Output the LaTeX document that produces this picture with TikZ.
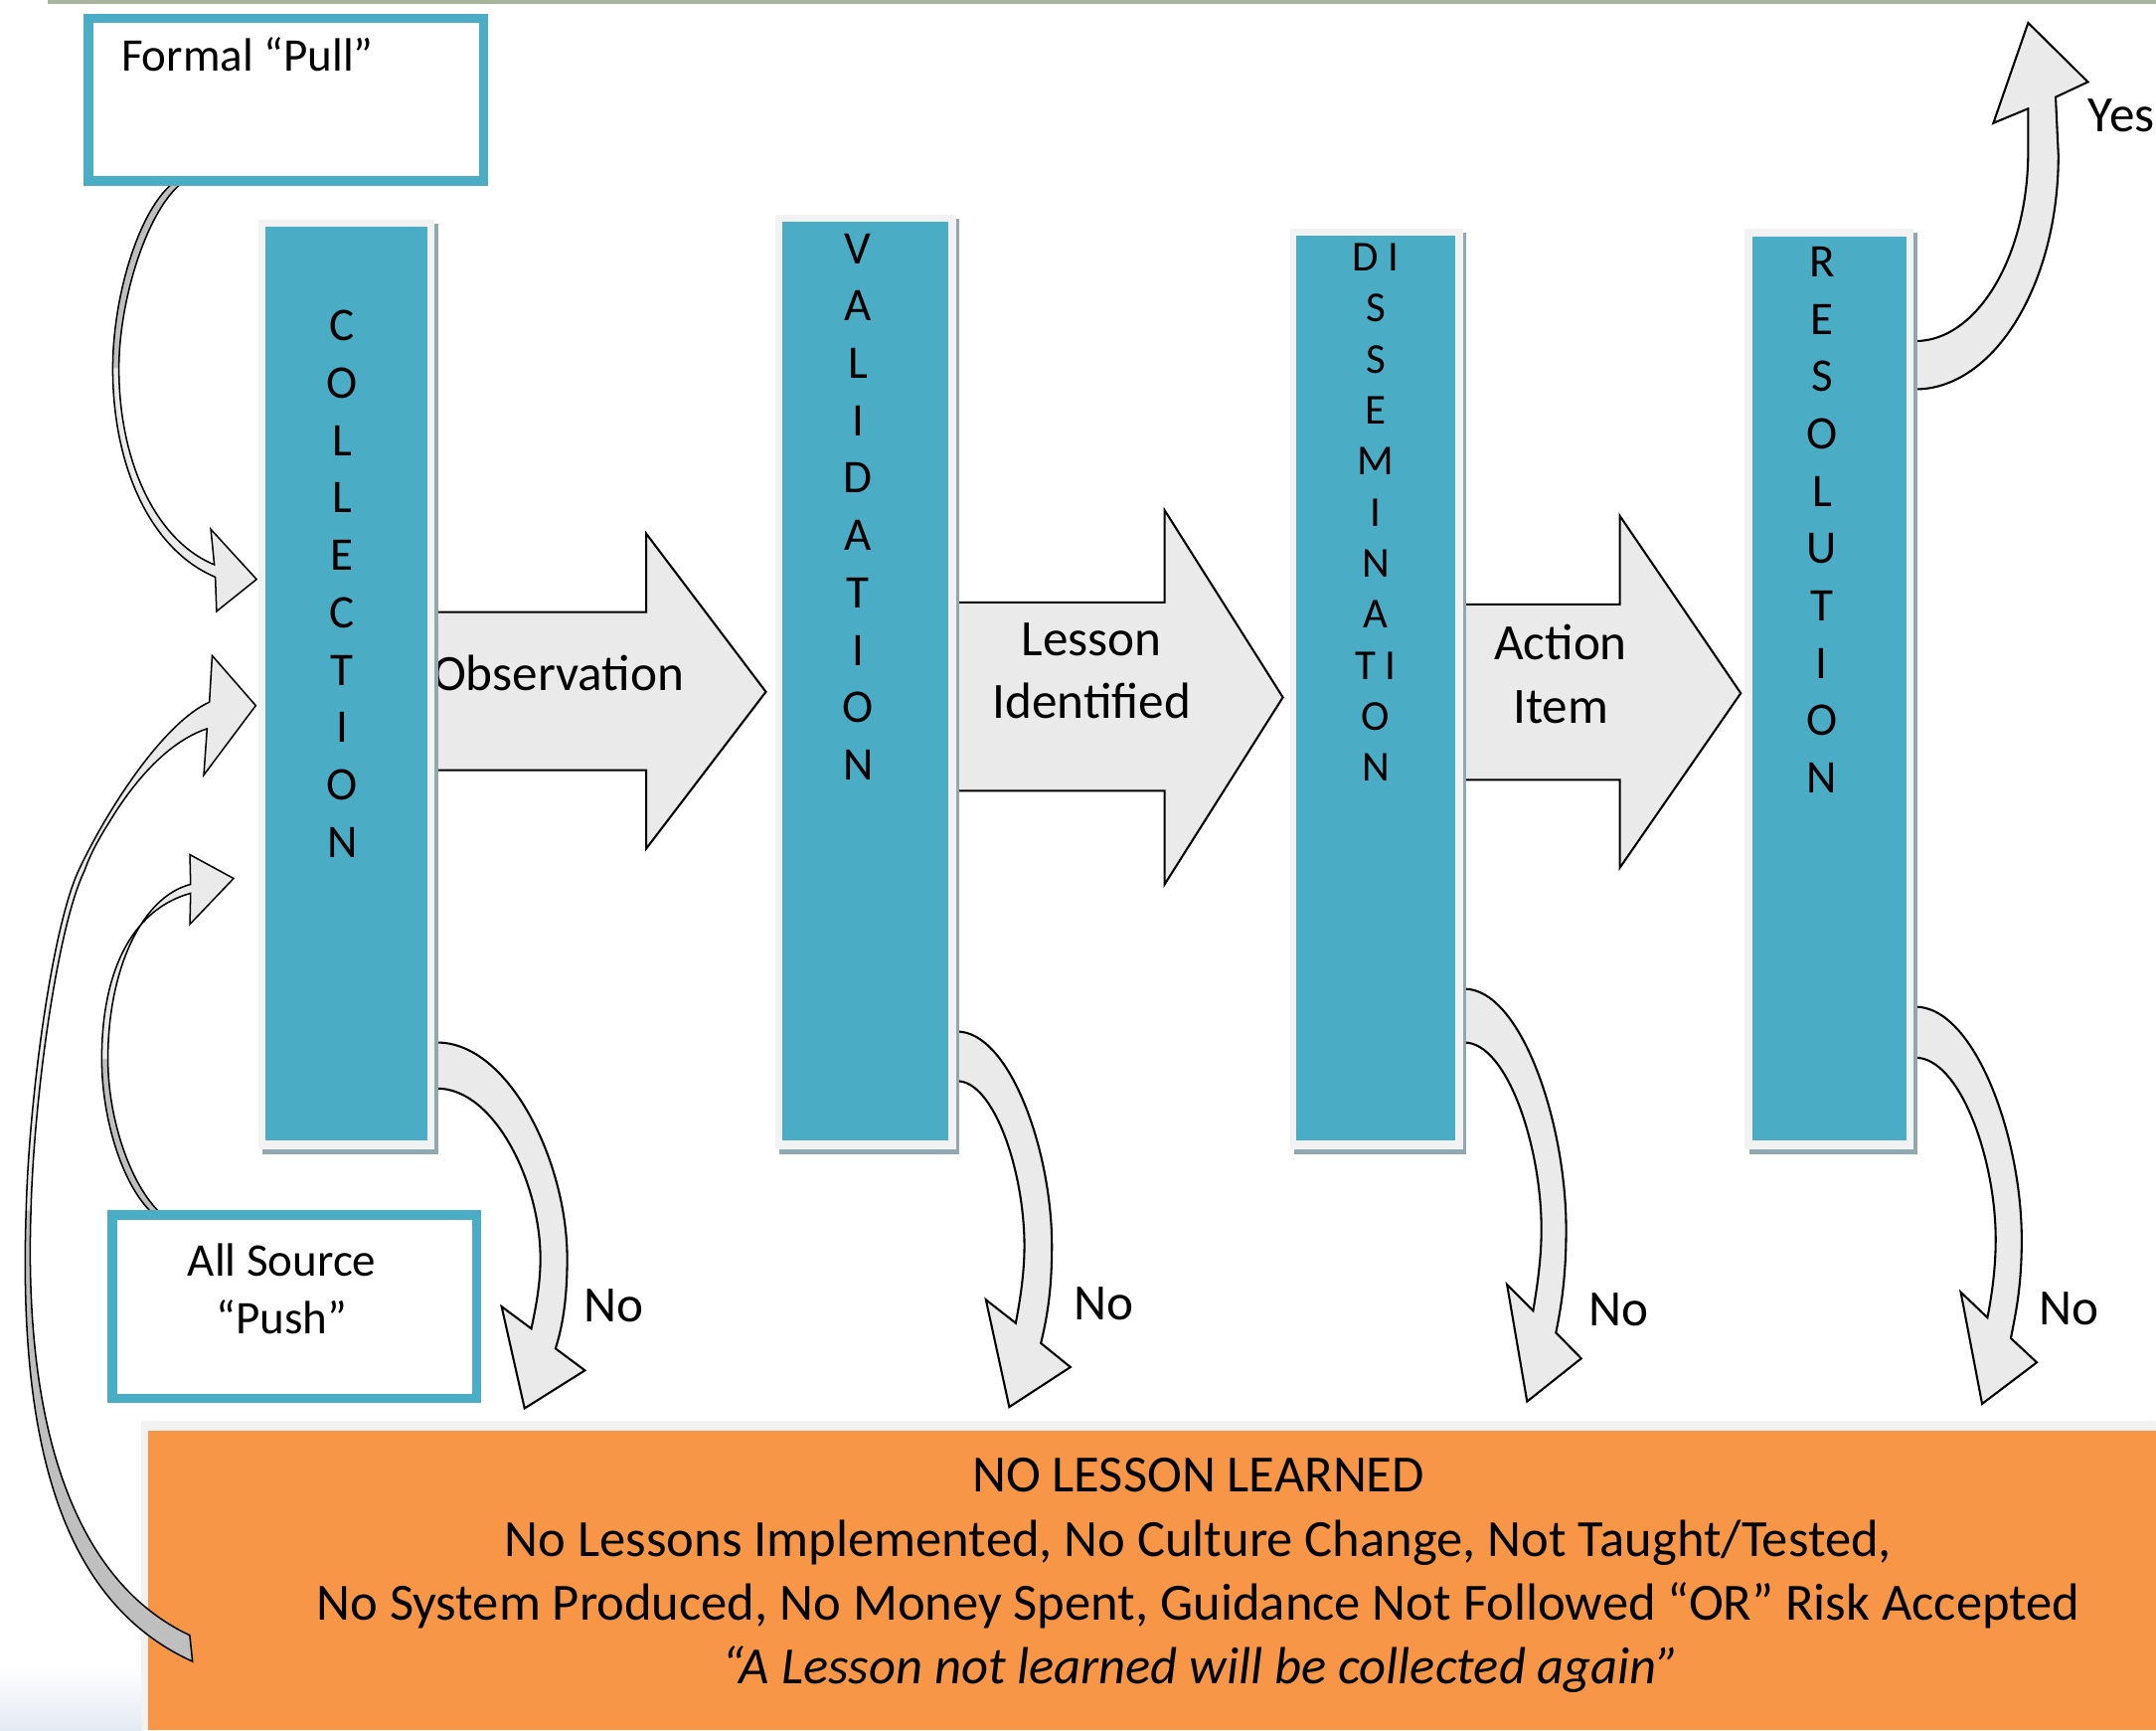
\documentclass[tikz,border=0pt]{standalone}
\usepackage{fontspec}
\setmainfont{Carlito}
\definecolor{stageblue}{HTML}{4BACC6}
\definecolor{framegrey}{HTML}{F2F2F2}
\definecolor{shadowc}{HTML}{8FA8B2}
\definecolor{arrowgrey}{HTML}{EAEAEA}
\definecolor{backgrey}{HTML}{BFBFBF}
\definecolor{orangec}{HTML}{F79646}
\definecolor{olivec}{HTML}{A9B39A}
\definecolor{fadeblue}{HTML}{E4EAF3}
\tikzset{
  outl/.style={draw=black, line width=1.5pt, line join=miter, miter limit=10},
  blockarrow/.style={fill=arrowgrey, outl},
  thinoutl/.style={draw=black, line width=1.1pt, line join=miter, miter limit=10},
  lbl/.style={font=\fontsize{37}{45}\selectfont, inner sep=0pt, anchor=base},
  boxtext/.style={font=\fontsize{34}{41.5}\selectfont, inner sep=0pt},
  bigtext/.style={font=\fontsize{38}{46.7}\selectfont, inner sep=0pt, anchor=base},
  letters/.style={align=center, inner sep=0pt, font=\fontsize{34}{41.7}\selectfont},
  stagebox/.style={fill=stageblue, draw=none, inner sep=0pt, outer sep=0pt},
  srcbox/.style={draw=stageblue, line width=5.6pt, fill=white, inner sep=0pt},
  thinblue/.style={draw=stageblue, line width=1.7pt}
}
\begin{document}
\begin{tikzpicture}[x=1pt,y=-1pt]
\useasboundingbox (0,0) rectangle (1568,1258);
\fill[white] (0,0) rectangle (1568,1258);
% top rule
\fill[olivec] (35,0) rectangle (1568,2.6);
% bottom-left fade
\shade[bottom color=fadeblue, top color=white] (0,1210) rectangle (103,1258);

% orange result box
\fill[framegrey] (103,1033) rectangle (1568,1258);
\node[fill=orangec, draw=none, inner sep=0pt, minimum width=1460pt, minimum height=218pt] (nolesson) at (838,1149) {};
\node[bigtext] (nl1) at (871.5,1085) {NO LESSON LEARNED};
\node[bigtext] (nl2) at (871.5,1131.5) {No Lessons Implemented, No Culture Change, Not Taught/Tested,};
\node[bigtext] (nl3) at (871.5,1178) {No System Produced, No Money Spent, Guidance Not Followed “OR” Risk Accepted};
\node[bigtext] (nl4) at (873,1224.5) {\itshape “A Lesson not learned will be collected again”};

% big block arrows
\draw[blockarrow] (305,445) -- (470,445) -- (470,388) -- (557,503) -- (470,617) -- (470,560) -- (305,560) -- cycle;
\draw[blockarrow] (682,438) -- (847,438) -- (847,371) -- (933,507) -- (847,643) -- (847,575) -- (682,575) -- cycle;
\draw[blockarrow] (1052,439.4) -- (1178,439.4) -- (1178,375) -- (1266,504) -- (1178,631) -- (1178,567) -- (1052,567) -- cycle;
\node[lbl] (obsT) at (406,502) {Observation};
\node[lbl] (lesT1) at (794,477) {Lesson};
\node[lbl] (lesT2) at (794,522) {Identified};
\node[lbl] (actT1) at (1135,480) {Action};
\node[lbl] (actT2) at (1135,526) {Item};

% "No" curved arrows
\draw[blockarrow] (310,758) -- (318,758) .. controls (370.2,758) and (412.5,844.7) .. (412.5,915) .. controls (412.5,945) and (409,965) .. (404,980.5) -- (425.4,996.4) -- (381.5,1024) -- (364.8,950) -- (386.4,966) .. controls (391,945) and (393,930) .. (393,915) .. controls (393,859.6) and (359.4,791.4) .. (318,791.4) -- (310,791.4) -- cycle;
\draw[blockarrow] (688,750) -- (696,750) .. controls (734,750) and (765,836) .. (765,906) .. controls (765,940) and (761,960) .. (757,976.6) -- (778.5,994) -- (734,1023) -- (717,945) -- (738.7,962) .. controls (742,945) and (745,925) .. (745,906) .. controls (745,852) and (723,786) .. (696,786) -- (688,786) -- cycle;
\draw[blockarrow] (1057,719) -- (1065,719) .. controls (1105.8,719) and (1139,815.4) .. (1139,894) .. controls (1139,930) and (1135,952) .. (1131.6,969) -- (1150,987.7) -- (1110.6,1019) -- (1096,934) -- (1115,953) .. controls (1118,935) and (1121,915) .. (1121,894) .. controls (1121,833) and (1095.9,758) .. (1065,758) -- (1057,758) -- cycle;
\draw[blockarrow] (1385,732) -- (1393,732) .. controls (1435.7,732) and (1470.3,825.5) .. (1470.3,901.4) .. controls (1470.3,935) and (1466,955) .. (1462.4,973) -- (1481.3,990.6) -- (1441.5,1020.7) -- (1426,939.5) -- (1445.4,958) .. controls (1449,940) and (1451.4,920) .. (1451.4,901.4) .. controls (1451.4,842.1) and (1425.2,769) .. (1393,769) -- (1385,769) -- cycle;
% "Yes" curved arrow
\draw[blockarrow] (1385,283) -- (1393,283) .. controls (1450,283) and (1497,207) .. (1497,113) -- (1495,70.6) -- (1518.5,59.6) -- (1475,16.6) -- (1449.7,89.5) -- (1475,79) -- (1475,110) .. controls (1475,186) and (1438,248) .. (1393,248) -- (1385,248) -- cycle;

% Formal pull arrow
\fill[backgrey] (134,128) .. controls (105,140) and (82,210) .. (82,268) -- (86.5,268) .. controls (86.5,212) and (112,138) .. (141,128) -- cycle;
\fill[arrowgrey] (82,268) .. controls (82,340) and (110,400) .. (156.6,419.6) -- (157.5,444.5) -- (186.6,421.2) -- (153.3,384.8) -- (155.9,410.6) .. controls (113,393) and (86.5,335) .. (86.5,268) -- cycle;
\draw[thinoutl] (134,128) .. controls (105,140) and (82,210) .. (82,268) .. controls (82,340) and (110,400) .. (156.6,419.6) -- (157.5,444.5) -- (186.6,421.2) -- (153.3,384.8) -- (155.9,410.6) .. controls (113,393) and (86.5,335) .. (86.5,268) .. controls (86.5,212) and (112,138) .. (141,128);

% All source push arrow
\fill[backgrey] (113,884) .. controls (90,865) and (74,815) .. (74,770) -- (78.5,770) .. controls (78.5,815) and (96,865) .. (119,884) -- cycle;
\fill[arrowgrey] (74,770) .. controls (74,700) and (100,660) .. (138.6,649.5) -- (138.1,672) -- (169.9,638.7) -- (138.1,621.4) -- (138.6,643) .. controls (103,652) and (78.5,705) .. (78.5,770) -- cycle;
\draw[thinoutl] (113,884) .. controls (90,865) and (74,815) .. (74,770) .. controls (74,700) and (100,660) .. (138.6,649.5) -- (138.1,672) -- (169.9,638.7) -- (138.1,621.4) -- (138.6,643) .. controls (103,652) and (78.5,705) .. (78.5,770) .. controls (78.5,815) and (96,865) .. (119,884);

% long feedback loop arrow
\fill[backgrey] (19,880) .. controls (13,1050) and (45,1165) .. (140,1208) -- (138,1189) .. controls (55,1150) and (17,1040) .. (22.5,880) -- cycle;
\fill[arrowgrey] (19,880) .. controls (21,800) and (37.8,673) .. (57.8,631.5) .. controls (80,585) and (120,525) .. (152.3,510.5) -- (154.3,476.7) -- (186,513) -- (148.2,563.5) -- (150.6,529.8) .. controls (120,540) and (95,572) .. (79.5,597.7) .. controls (73,608) and (66,620) .. (61.5,633) .. controls (41.5,674) and (24.5,800) .. (22.5,880) -- cycle;
\draw[thinoutl] (140,1208) .. controls (45,1165) and (13,1050) .. (19,880) .. controls (21,800) and (37.8,673) .. (57.8,631.5) .. controls (80,585) and (120,525) .. (152.3,510.5) -- (154.3,476.7) -- (186,513) -- (148.2,563.5) -- (150.6,529.8) .. controls (120,540) and (95,572) .. (79.5,597.7) .. controls (73,608) and (66,620) .. (61.5,633) .. controls (41.5,674) and (24.5,800) .. (22.5,880) .. controls (17,1040) and (55,1150) .. (138,1189) -- cycle;

% stage columns: shadow, frame, body, letters
\fill[shadowc] (191,163) rectangle (318.6,839);
\fill[framegrey] (188,160) rectangle (316,835.5);
\node[stagebox, minimum width=118pt, minimum height=664pt] (coll) at (252,497) {};
\node[letters] (collL) at (249,424.5) {C\\O\\L\\L\\E\\C\\T\\I\\O\\N};

\fill[shadowc] (567,159) rectangle (697.8,839);
\fill[framegrey] (564,156) rectangle (695.3,835.5);
\node[stagebox, minimum width=120.3pt, minimum height=668pt] (vali) at (629.15,495) {};
\node[letters] (valiL) at (624,368.5) {V\\A\\L\\I\\D\\A\\T\\I\\O\\N};

\fill[shadowc] (941,169.5) rectangle (1066.5,839);
\fill[framegrey] (938,166.5) rectangle (1064,835.5);
\node[stagebox, minimum width=115.6pt, minimum height=657.5pt] (diss) at (1000.8,500.25) {};
\node[letters, font=\fontsize{31}{37.1}\selectfont] (dissL) at (1000.5,372.5) {D I\\S\\S\\E\\M\\I\\N\\A\\T I\\O\\N};

\fill[shadowc] (1272,169.5) rectangle (1394.5,839);
\fill[framegrey] (1268.5,166.3) rectangle (1391.5,835.5);
\node[stagebox, minimum width=112.2pt, minimum height=657.3pt] (reso) at (1330.4,500.35) {};
\node[letters] (resoL) at (1325,378) {R\\E\\S\\O\\L\\U\\T\\I\\O\\N};

% source boxes (thick outer line, white gap, thin inner line)
\node[srcbox, minimum width=288.4pt, minimum height=119.4pt] (pull) at (208,72.5) {};
\draw[thinblue] ([shift={(5.85,5.85)}]pull.north west) rectangle ([shift={(-5.85,-5.85)}]pull.south east);
\node[boxtext, anchor=west] (pullT) at (88,39.5) {Formal “Pull”};

\node[srcbox, minimum width=266pt, minimum height=134.4pt] (push) at (214.2,950) {};
\draw[thinblue] ([shift={(5.85,5.85)}]push.north west) rectangle ([shift={(-5.85,-5.85)}]push.south east);
\node[boxtext, align=center] (pushT) at (205,937) {All Source\\“Push”};

% decision labels
\node[lbl] (no1) at (446.5,961) {No};
\node[lbl] (no2) at (803,960) {No};
\node[lbl] (no3) at (1177.5,964) {No};
\node[lbl] (no4) at (1504.5,963) {No};
\node[lbl, anchor=base west] (yes) at (1518.5,95.6) {Yes};
\end{tikzpicture}
\end{document}
